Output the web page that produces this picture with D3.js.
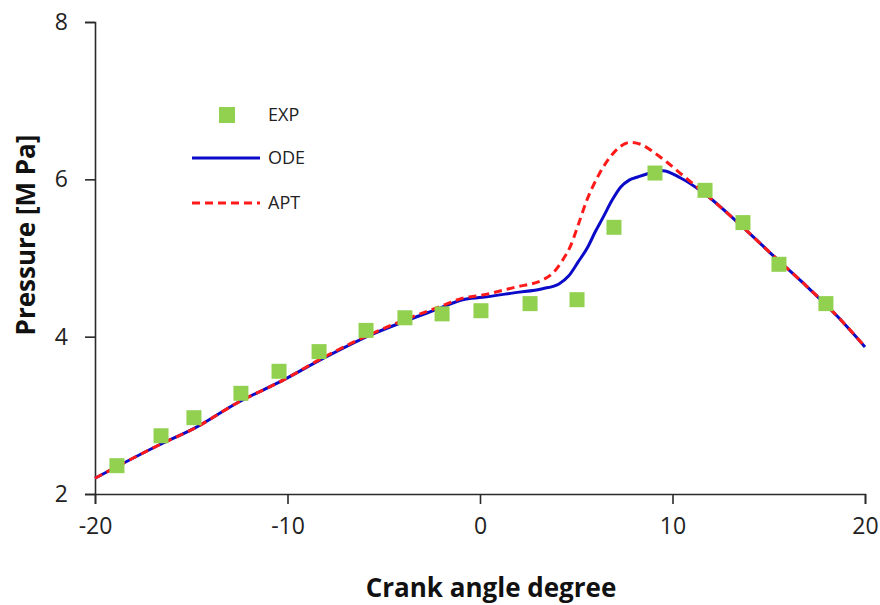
<!DOCTYPE html>
<html>
<head>
<meta charset="utf-8">
<script src="https://cdn.jsdelivr.net/npm/d3@7"></script>
<style>
  html, body { margin: 0; padding: 0; background: #fff; }
  svg { display: block; font-family: "Open Sans", Lato, sans-serif; }
</style>
</head>
<body>
<svg id="chart" width="880" height="605"></svg>
<script>
// Measured cylinder pressure (crank angle, MPa)
const expAngle = [-18.86, -16.57, -14.86, -12.42, -10.44, -8.36, -5.92, -3.90, -1.97, 0.05, 2.60, 5.04, 6.96, 9.09, 11.69, 13.66, 15.53, 17.97];
const expPressure = [2.36, 2.74, 2.97, 3.28, 3.56, 3.81, 4.08, 4.24, 4.29, 4.33, 4.42, 4.47, 5.39, 6.08, 5.86, 5.45, 4.92, 4.42];

// ODE model prediction
const odeAngle = [-20, -16.7, -14.8, -12.6, -10.2, -8.1, -5.7, -3.75, -2.1, -0.9, 0.13, 1.84, 3.25, 4.1, 4.6, 5.1, 5.6, 6.0, 6.4, 6.85, 7.3, 7.75, 8.2, 9.0, 9.5, 10.4, 11.6, 13.4, 15.1, 16.8, 18.6, 20];
const odePressure = [2.20, 2.62, 2.84, 3.16, 3.45, 3.73, 4.02, 4.21, 4.36, 4.47, 4.50, 4.56, 4.61, 4.67, 4.77, 4.95, 5.14, 5.34, 5.52, 5.73, 5.90, 5.99, 6.03, 6.09, 6.11, 6.02, 5.83, 5.45, 5.06, 4.68, 4.25, 3.87];

// APT model prediction
const aptAngle = [-20, -16.7, -14.8, -12.6, -10.2, -8.1, -5.7, -3.75, -2.1, -0.9, 0.13, 1.84, 3.25, 3.79, 4.31, 4.68, 5.1, 5.56, 6.2, 6.75, 7.3, 7.79, 8.4, 8.99, 9.7, 10.39, 11.58, 13.4, 15.1, 16.8, 18.6, 20];
const aptPressure = [2.20, 2.62, 2.84, 3.16, 3.45, 3.74, 4.03, 4.23, 4.38, 4.49, 4.53, 4.63, 4.72, 4.81, 4.98, 5.14, 5.42, 5.74, 6.07, 6.28, 6.42, 6.47, 6.44, 6.35, 6.22, 6.08, 5.84, 5.45, 5.06, 4.68, 4.25, 3.87];

const xTicks = [-20, -10, 0, 10, 20];
const yTicks = [2, 4, 6, 8];

const svg = d3.select("#chart");
const x = d3.scaleLinear().domain([-20, 20]).range([95, 865]);
const y = d3.scaleLinear().domain([2, 8]).range([494, 22]);

// Axes (plain hyphen for negative labels)
const fmt = d => String(d);
const xAxis = svg.append("g")
  .attr("transform", `translate(0,${y(2)})`)
  .call(d3.axisBottom(x).tickValues(xTicks).tickSize(10).tickPadding(14).tickFormat(fmt));
const yAxis = svg.append("g")
  .attr("transform", `translate(${x(-20)},0)`)
  .call(d3.axisLeft(y).tickValues(yTicks).tickSize(10).tickPadding(17).tickFormat(fmt));

[xAxis, yAxis].forEach(g => {
  g.select(".domain").attr("stroke", "#2a2a2a").attr("stroke-width", 1.6);
  g.selectAll(".tick line").attr("stroke", "#2a2a2a").attr("stroke-width", 1.6);
  g.selectAll(".tick text").attr("fill", "#222").style("font-size", "23px")
    .style("font-family", "'Open Sans', Lato, sans-serif");
});
xAxis.selectAll(".tick text").attr("dy", "0.71em");

// Axis titles
svg.append("text")
  .attr("x", 491).attr("y", 597)
  .attr("text-anchor", "middle")
  .style("font-size", "26px").style("font-weight", "bold").attr("fill", "#111")
  .text("Crank angle degree");
svg.append("text")
  .attr("transform", "translate(35,235) rotate(-90)")
  .attr("text-anchor", "middle")
  .style("font-size", "26px").style("font-weight", "bold").attr("fill", "#111")
  .text("Pressure [M Pa]");

// Model curves
const line = d3.line().x(d => x(d[0])).y(d => y(d[1])).curve(d3.curveMonotoneX);
const odeData = odeAngle.map((a, i) => [a, odePressure[i]]);
const aptData = aptAngle.map((a, i) => [a, aptPressure[i]]);

svg.append("path").datum(odeData)
  .attr("d", line).attr("fill", "none")
  .attr("stroke", "#0a0ac8").attr("stroke-width", 3);
svg.append("path").datum(aptData)
  .attr("d", line).attr("fill", "none")
  .attr("stroke", "#ff1a1a").attr("stroke-width", 3)
  .attr("stroke-dasharray", "8,5");

// Experimental points
const sq = 15;
svg.append("g").selectAll("rect")
  .data(expAngle.map((a, i) => [a, expPressure[i]]))
  .join("rect")
  .attr("x", d => x(d[0]) - sq / 2)
  .attr("y", d => y(d[1]) - sq / 2)
  .attr("width", sq).attr("height", sq)
  .attr("fill", "#92d050");

// Legend
const legend = svg.append("g").style("font-size", "18px").attr("fill", "#222");
legend.append("rect").attr("x", 219).attr("y", 107).attr("width", 16).attr("height", 16).attr("fill", "#92d050");
legend.append("line").attr("x1", 192).attr("x2", 260).attr("y1", 158).attr("y2", 158)
  .attr("stroke", "#0a0ac8").attr("stroke-width", 3);
legend.append("line").attr("x1", 192).attr("x2", 260).attr("y1", 203).attr("y2", 203)
  .attr("stroke", "#ff1a1a").attr("stroke-width", 3).attr("stroke-dasharray", "8,5");
[["EXP", 115], ["ODE", 158], ["APT", 203]].forEach(([t, yy]) => {
  legend.append("text").attr("x", 268).attr("y", yy).attr("dy", "0.35em").text(t);
});
</script>
</body>
</html>
